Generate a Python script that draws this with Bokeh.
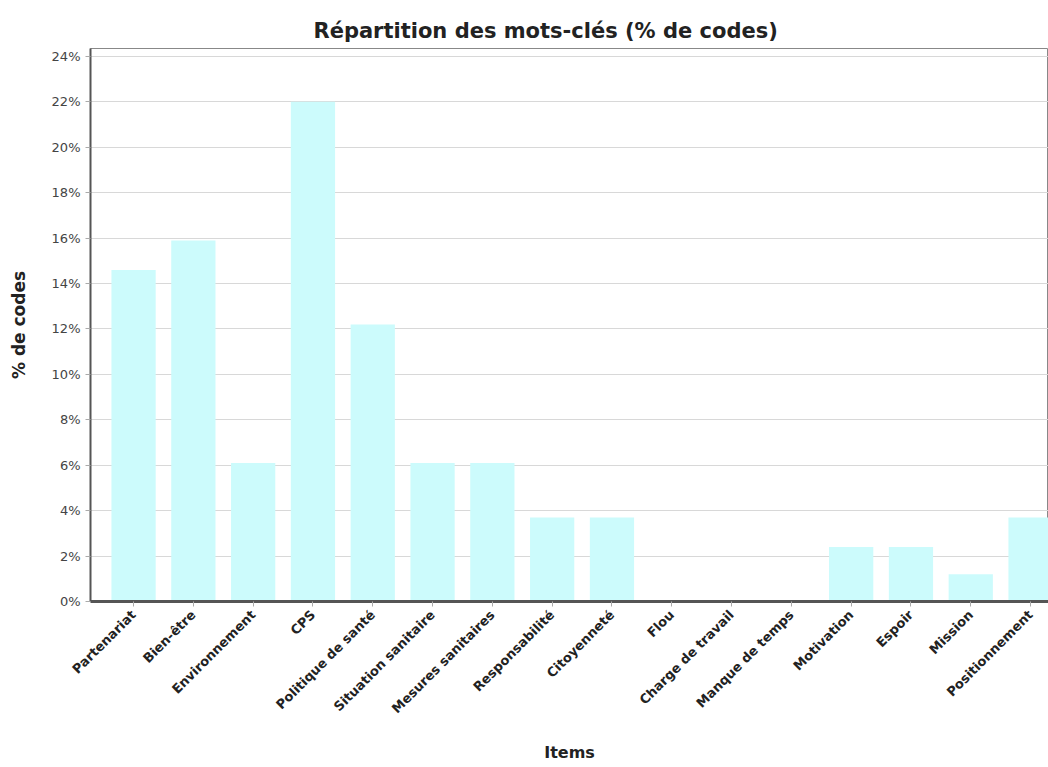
import math
from bokeh.plotting import figure
from bokeh.models import ColumnDataSource, FixedTicker, PrintfTickFormatter, Range1d
from bokeh.embed import file_html
from bokeh.resources import INLINE

categories = ["Partenariat", "Bien-être", "Environnement", "CPS", "Politique de santé",
              "Situation sanitaire", "Mesures sanitaires", "Responsabilité", "Citoyenneté",
              "Flou", "Charge de travail", "Manque de temps", "Motivation", "Espoir",
              "Mission", "Positionnement"]
values = [14.6, 15.9, 6.1, 22.0, 12.2, 6.1, 6.1, 3.7, 3.7, 0.0, 0.0, 0.0, 2.4, 2.4, 1.2, 3.7]
y_ticks = list(range(0, 25, 2))

xs = list(range(len(categories)))
src = ColumnDataSource(dict(x=xs, top=values, name=categories))

p = figure(width=1048, height=765, output_backend="svg", toolbar_location=None,
           x_range=Range1d(-0.72, 15.3), y_range=Range1d(0, 24.35),
           title="Répartition des mots-clés (% de codes)",
           min_border_left=90, min_border_right=0, min_border_top=48, min_border_bottom=164)

p.vbar(x="x", top="top", width=0.74, source=src, fill_color="#ccfbfc", line_color=None)

p.title.align = "left"
p.title.offset = 223
p.title.standoff = 12
p.title.text_font = "DejaVu Sans"
p.title.text_font_size = "21px"
p.title.text_font_style = "bold"
p.title.text_color = "#222222"

p.xaxis.ticker = FixedTicker(ticks=xs)
p.xaxis.major_label_overrides = {i: c for i, c in enumerate(categories)}
p.xaxis.major_label_orientation = math.pi / 4
p.xaxis.axis_label = "Items"
p.yaxis.axis_label = "% de codes"
p.yaxis.ticker = FixedTicker(ticks=y_ticks)
p.yaxis.formatter = PrintfTickFormatter(format="%d%%")

for ax in (p.xaxis, p.yaxis):
    ax.major_label_text_font = "DejaVu Sans"
    ax.axis_label_text_font = "DejaVu Sans"
    ax.axis_label_text_font_style = "bold"
    ax.axis_label_text_color = "#222222"
    ax.axis_line_color = "#555555"
    ax.major_tick_line_color = "#aaaaaa"
    ax.minor_tick_line_color = None
    ax.major_tick_in = 0
    ax.major_tick_out = 5

p.yaxis.major_label_text_font_size = "13px"
p.yaxis.major_label_text_color = "#444444"
p.xaxis.major_label_text_font_size = "13px"
p.xaxis.major_label_text_font_style = "bold"
p.xaxis.major_label_text_color = "#222222"
p.xaxis.axis_label_text_font_size = "16px"
p.yaxis.axis_label_text_font_size = "17px"
p.xaxis.axis_line_width = 3
p.yaxis.axis_line_width = 2
p.xaxis.major_label_standoff = 6
p.xaxis.axis_label_standoff = 19
p.yaxis.axis_label_standoff = 20

p.xgrid.grid_line_color = None
p.ygrid.grid_line_color = "#d8d8d8"
p.ygrid.ticker = FixedTicker(ticks=y_ticks)
p.outline_line_color = "#888888"
p.outline_line_width = 1

open("out.html", "w").write(file_html(p, INLINE))
